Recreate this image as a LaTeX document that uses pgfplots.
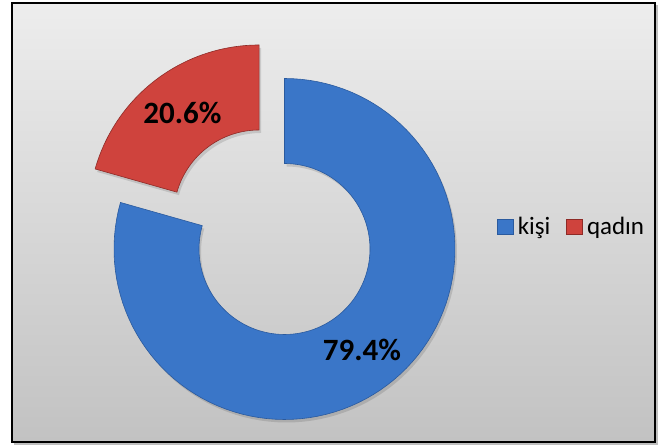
\documentclass[border=0pt]{standalone}
\usepackage{pgfplots}
\usepackage{pgfplotstable}
\pgfplotsset{compat=1.18}
\usepackage{fontspec}
\setmainfont{Carlito}
\definecolor{blueC}{HTML}{3A76C8}
\definecolor{blueD}{HTML}{2A5A9E}
\definecolor{redC}{HTML}{CF433D}
\definecolor{redD}{HTML}{8E2A26}
\definecolor{bgTop}{HTML}{EDEDED}
\definecolor{bgBot}{HTML}{C2C2C2}

\pgfplotstableread{
label value
kisi 79.4
qadin 20.6
}\donutdata
\pgfplotstablegetelem{0}{value}\of\donutdata\let\va\pgfplotsretval
\pgfplotstablegetelem{1}{value}\of\donutdata\let\vb\pgfplotsretval
\pgfmathsetmacro{\aS}{90}
\pgfmathsetmacro{\aM}{90-3.6*\va}
\pgfmathsetmacro{\aE}{\aM-3.6*\vb}
\pgfmathsetmacro{\aMid}{(\aM+\aE)/2}
\pgfmathsetmacro{\ex}{42*cos(\aMid)}
\pgfmathsetmacro{\ey}{42*sin(\aMid)}
\def\cx{284.5}
\def\cy{197}
\def\Ro{170.5}
\def\Ri{85.5}

\begin{document}
\begin{tikzpicture}
\begin{axis}[
  scale only axis, width=667pt, height=446pt,
  xmin=0, xmax=667, ymin=0, ymax=446,
  hide axis, clip=false,
  declare function={
    sang(\t,\a,\b) = (\t<1)*(\a+(\b-\a)*\t) + (\t>=1)*(\t<=2)*\b + (\t>2)*(\b-(\b-\a)*(\t-2));
    srad(\t,\R,\r) = (\t<=1)*\R + (\t>1)*(\t<2)*(\R-(\R-\r)*(\t-1)) + (\t>=2)*\r;
  },
  legend style={at={(axis cs:497,219.5)}, anchor=west, draw=none, fill=none,
    inner sep=0pt, font=\fontsize{25}{30}\selectfont,
    /tikz/every odd column/.append style={column sep=2pt},
    /tikz/every even column/.append style={column sep=14pt}},
  legend columns=-1,
  legend image code/.code={\fill[#1] (0pt,-7.5pt) rectangle (16pt,7.5pt);},
]
% background
\fill[white] (axis cs:0,0) rectangle (axis cs:667,446);
\fill[black!25] (axis cs:14,1) rectangle (axis cs:658,441);
\shade[top color=bgTop, bottom color=bgBot] (axis cs:12,4) rectangle (axis cs:655,443);
\draw[black, line width=1.6pt] (axis cs:12,4) rectangle (axis cs:655,443);

% soft shadows
\addplot[forget plot, fill=black, fill opacity=0.12, draw=none, domain=0:3, samples=301, variable=\t]
  ({\cx + 2 + srad(\t,\Ro,\Ri)*cos(sang(\t,\aS,\aM))}, {\cy - 3 + srad(\t,\Ro,\Ri)*sin(sang(\t,\aS,\aM))}) -- cycle;
\addplot[forget plot, fill=black, fill opacity=0.12, draw=none, domain=0:3, samples=301, variable=\t]
  ({\cx + 2 + \ex + srad(\t,\Ro,\Ri)*cos(sang(\t,\aM,\aE))}, {\cy - 3 + \ey + srad(\t,\Ro,\Ri)*sin(sang(\t,\aM,\aE))}) -- cycle;

\addplot[fill=blueC, draw=blueD, line width=0.6pt, domain=0:3, samples=301, variable=\t]
  ({\cx + srad(\t,\Ro,\Ri)*cos(sang(\t,\aS,\aM))}, {\cy + srad(\t,\Ro,\Ri)*sin(sang(\t,\aS,\aM))}) -- cycle;
\addlegendentry{kişi}
\addplot[fill=redC, draw=redD, line width=0.6pt, domain=0:3, samples=301, variable=\t]
  ({\cx + \ex + srad(\t,\Ro,\Ri)*cos(sang(\t,\aM,\aE))}, {\cy + \ey + srad(\t,\Ro,\Ri)*sin(sang(\t,\aM,\aE))}) -- cycle;
\addlegendentry{qadın}

\node[font=\fontsize{31}{36}\selectfont\bfseries] at (axis cs:182.5,333) {20.6\%};
\node[font=\fontsize{31}{36}\selectfont\bfseries] at (axis cs:362,96) {79.4\%};
\end{axis}
\end{tikzpicture}
\end{document}
